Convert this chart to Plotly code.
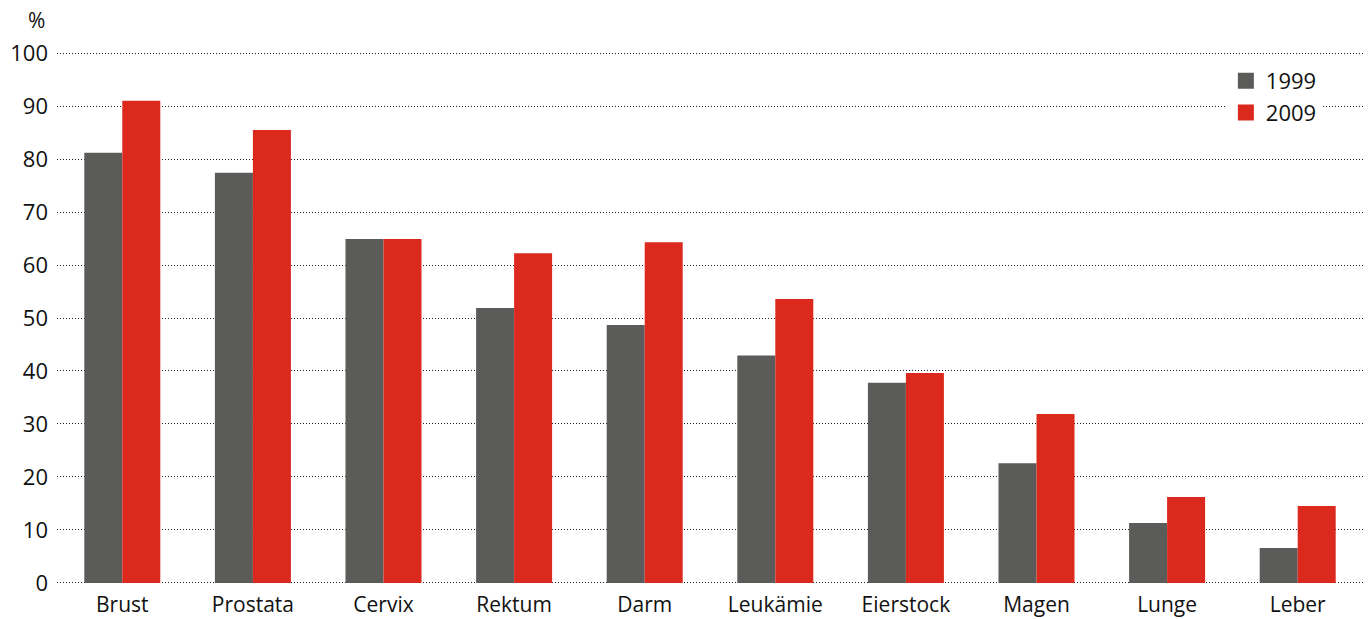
import plotly.graph_objects as go

categories = ["Brust", "Prostata", "Cervix", "Rektum", "Darm", "Leukämie", "Eierstock", "Magen", "Lunge", "Leber"]
v1999 = [81.2, 77.4, 64.9, 51.9, 48.7, 42.9, 37.8, 22.6, 11.3, 6.6]
v2009 = [91.0, 85.5, 64.9, 62.2, 64.3, 53.6, 39.6, 31.9, 16.2, 14.5]
series_names = ["1999", "2009"]
yticks = [0, 10, 20, 30, 40, 50, 60, 70, 80, 90, 100]

FONT = "Open Sans"
TXT = "#111111"
COLORS = ["#5b5b59", "#dc291e"]

fig = go.Figure()
for name, vals, col in zip(series_names, [v1999, v2009], COLORS):
    fig.add_trace(go.Bar(x=categories, y=vals, name=name, marker_color=col,
                         marker_line_width=0, showlegend=False))
# legend entries with larger square swatches
for name, col in zip(series_names, COLORS):
    fig.add_trace(go.Scatter(x=[None], y=[None], mode="markers", name=name,
                             marker=dict(symbol="square", size=16, color=col)))

T, B = 52, 35
fig.update_layout(
    width=1368, height=619,
    margin=dict(l=57, r=5, t=T, b=B),
    plot_bgcolor="white", paper_bgcolor="white",
    barmode="group", bargap=0.418, bargroupgap=0,
    font=dict(family=FONT, size=21, color=TXT),
    showlegend=True,
    legend=dict(x=0.895, y=0.985, xanchor="left", yanchor="top",
                font=dict(family=FONT, size=22, color=TXT),
                bgcolor="rgba(255,255,255,1)", itemwidth=30, tracegroupgap=0,
                itemsizing="trace"),
    xaxis=dict(showgrid=False, showline=False, ticks="", tickfont=dict(size=21),
               ticklen=0, ticklabelstandoff=6, automargin=False),
    yaxis=dict(range=[-0.2, 100.2], tickvals=yticks, showgrid=True, gridcolor="#222222",
               griddash="1px,2px", gridwidth=1, zeroline=False, showline=False,
               ticks="", tickfont=dict(size=22), ticklabelstandoff=8, automargin=False),
)
ph = 619 - T - B
fig.add_annotation(text="%", xref="paper", yref="paper", showarrow=False,
                   x=(36 - 57) / (1368 - 62), y=(619 - B - 20) / ph,
                   xanchor="center", yanchor="middle", font=dict(size=21, family=FONT, color=TXT))
fig.write_html("out.html")
